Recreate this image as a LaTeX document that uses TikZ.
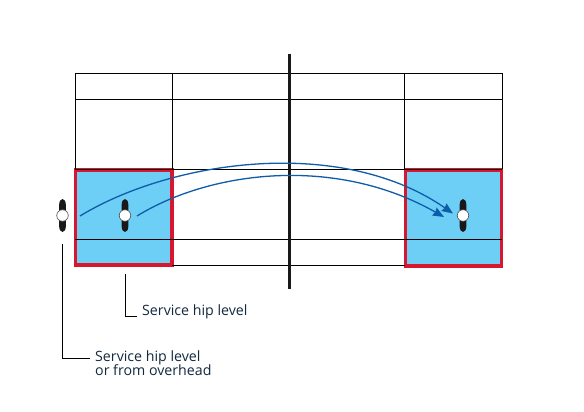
\documentclass[tikz,border=0pt]{standalone}
\usepackage{fontspec}
\setmainfont{Open Sans}
\usetikzlibrary{arrows.meta}
\definecolor{bayblue}{HTML}{6DCFF6}
\definecolor{bayred}{HTML}{D8172F}
\definecolor{arcblue}{HTML}{0F5CA8}
\definecolor{labelnavy}{HTML}{12293F}
\tikzset{
  grid/.style={draw=black,line width=0.9pt},
  bay/.style={draw=bayred,fill=bayblue,line width=3.8pt,line join=miter},
  centreline/.style={draw=black!90,line width=3pt},
  arc/.style={draw=arcblue,line width=1.3pt,-{Stealth[length=11pt,width=9pt,inset=1pt]}},
  leader/.style={draw=black,line width=0.9pt},
  lbl/.style={text=labelnavy,font=\fontsize{14.2}{15}\selectfont,inner sep=0pt,align=left,anchor=west},
  hub/.style={circle,draw=black!70,fill=white,line width=0.6pt,minimum size=11.5pt,inner sep=0pt},
}
\newcommand{\prop}[3]{%
  \fill[black!90] (#2,#3-16.5) .. controls (#2+4.6,#3-16.5) and (#2+3.6,#3-6) .. (#2+2.6,#3) .. controls (#2+3.6,#3+6) and (#2+4.6,#3+16.5) .. (#2,#3+16.5) .. controls (#2-4.6,#3+16.5) and (#2-3.6,#3+6) .. (#2-2.6,#3) .. controls (#2-3.6,#3-6) and (#2-4.6,#3-16.5) .. (#2,#3-16.5) -- cycle;
  \node[hub] (#1) at (#2,#3) {};
}
\begin{document}
\begin{tikzpicture}[x=1pt,y=-1pt]
\useasboundingbox (0,0) rectangle (584,412);
\fill[white] (0,0) rectangle (584,412);
% bays
\path[bay] (75.5,170) rectangle (172,265);
\path[bay] (405.5,170) rectangle (501.5,266);
% grid
\path[grid] (75,73) -- (502,73);
\path[grid] (75,99) -- (502,99);
\path[grid] (75,169) -- (502,169);
\path[grid] (75,239) -- (502,239);
\path[grid] (172,265) -- (405,265);
\path[grid] (75,73) -- (75,169);
\path[grid] (172.5,73) -- (172.5,169);
\path[grid] (404.5,73) -- (404.5,169);
\path[grid] (502,73) -- (502,169);
% centre line
\coordinate (ctop) at (289.5,54);
\coordinate (cbot) at (289.5,289);
\path[centreline] (ctop) -- (cbot);
% propellers
\prop{p1}{62.5}{215.5}
\prop{p2}{125}{215.5}
\prop{p3}{463}{215.5}
% arcs
\coordinate (a1s) at (80,216);
\coordinate (a1e) at (453,213.5);
\coordinate (a2s) at (137,216);
\coordinate (a2e) at (444,217);
\path[arc] (a1s) .. controls (170,161) and (340,135) .. (a1e);
\path[arc] (a2s) .. controls (210,171) and (335,155) .. (a2e);
% labels
\node[lbl] (l1) at (142,312) {Service hip level};
\node[lbl] (l2) at (95,363) {Service hip level\\[-0.5pt]or from overhead};
\coordinate (s1) at (125,274);
\coordinate (s2) at (62.5,244);
\path[leader] (s1) -- (125,316) -- (137,316);
\path[leader] (s2) -- (62.5,358) -- (90,358);
\end{tikzpicture}
\end{document}
